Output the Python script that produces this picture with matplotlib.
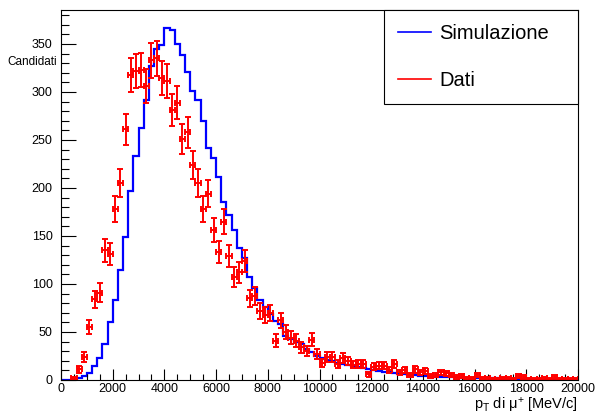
import matplotlib
matplotlib.use("Agg")
import matplotlib.pyplot as plt
from matplotlib.lines import Line2D
from matplotlib.ticker import MultipleLocator
import numpy as np

plt.rcParams['font.family'] = ['Liberation Sans', 'DejaVu Sans']
plt.rcParams['mathtext.fontset'] = 'custom'
plt.rcParams['mathtext.rm'] = 'Liberation Sans'
plt.rcParams['mathtext.it'] = 'Liberation Sans:italic'

## Binning: 100 bins of 200 MeV/c from 0 to 20000
edges = np.arange(0, 20001, 200)
centers = edges[:-1] + 100

## Monte Carlo histogram (normalised to data)
simulazione = [0, 0, 0, 2.4, 4.5, 7.6, 14.6, 22.6, 37.5, 60,
               83, 115, 149, 197, 233, 263, 292, 327, 344.5, 349,
               367, 365, 350, 339, 321, 301, 292, 270, 242, 231,
               211, 185, 172, 156, 137, 127, 107, 95.5, 83, 76,
               69, 61, 58, 46, 43, 40, 37, 32, 29, 25,
               23, 21, 20, 18, 17, 15.5, 14.5, 13.5, 12, 11,
               10, 9.5, 8.5, 8, 7, 6.5, 6, 5.5, 5, 4.5,
               4, 4, 3.5, 3.5, 3, 3, 3, 2.5, 2.5, 2.5,
               2, 2, 2, 2, 2, 1.5, 1.5, 1.5, 1.5, 1.5,
               1.5, 1.5, 1, 1, 1, 1, 1, 1, 1, 1]

## Data counts per bin
dati = [0, 0, 2, 11, 24, 55, 84, 91, 135, 131,
        178, 205, 261, 318, 322, 323, 306, 333, 335, 315,
        311, 281, 289, 251, 258, 224, 205, 178, 194, 156,
        133, 165, 129, 107, 112, 124, 85, 88, 72, 68,
        70, 41, 62, 50, 44, 41, 34, 30, 42, 27,
        18, 24, 24, 17, 23, 20, 16, 17, 17, 6,
        14, 15, 15, 10, 17, 8, 10, 5, 11, 8,
        9, 4, 5, 8, 7, 5, 3, 4, 2, 2,
        5, 2, 2, 1, 1, 2, 2, 1, 4, 3,
        1, 1, 1, 2, 1, 3, 1, 1, 1, 1]

sim = np.array(simulazione)
dat = np.array(dati, dtype=float)
ok = dat > 0

fig = plt.figure(figsize=(5.97, 4.16), dpi=100)
ax = fig.add_axes([61 / 597, 36 / 416, 517 / 597, 370 / 416])

ax.stairs(sim, edges, baseline=None, color='#0000ff', lw=1.6)
ax.errorbar(centers[ok], dat[ok], yerr=np.sqrt(dat[ok]), xerr=100,
            fmt='none', ecolor='#ff0000', elinewidth=1.4,
            capsize=2.2, capthick=1.4)

ax.set_xlim(0, 20000)
ax.set_ylim(0, 385.4)
ax.xaxis.set_major_locator(MultipleLocator(2000))
ax.xaxis.set_minor_locator(MultipleLocator(500))
ax.yaxis.set_major_locator(MultipleLocator(50))
ax.yaxis.set_minor_locator(MultipleLocator(10))
ax.tick_params(axis='x', which='major', direction='in', length=8, width=0.8,
               labelsize=9, pad=2)
ax.tick_params(axis='x', which='minor', direction='in', length=4, width=0.8)
ax.tick_params(axis='y', which='major', direction='in', length=11, width=0.8,
               labelsize=9, pad=6)
ax.tick_params(axis='y', which='minor', direction='in', length=5.5, width=0.8)
for s in ax.spines.values():
    s.set_linewidth(0.8)

## Axis titles
ax.text(1.0, -0.08, r'p$_{\mathrm{T}}$ di μ$^{+}$ [MeV/c]', transform=ax.transAxes,
        ha='right', va='baseline', fontsize=10.5)
fig.text(32 / 597, 1 - 62 / 416, 'Candidati', ha='center', va='center',
         fontsize=8.5)

## Legend
handles = [Line2D([], [], color='#0000ff', lw=1.2),
           Line2D([], [], color='#ff0000', lw=1.2)]
leg = ax.legend(handles, ['Simulazione', 'Dati'], loc='upper left',
                bbox_to_anchor=(323 / 517, 0, 194 / 517, 1.0), mode='expand',
                borderaxespad=0, fancybox=False, edgecolor='black',
                framealpha=1, fontsize=14.5, handlelength=1.65,
                handletextpad=0.4, labelspacing=1.4, borderpad=0.7)
leg.get_frame().set_linewidth(0.8)

fig.savefig('out.png', dpi=100)
